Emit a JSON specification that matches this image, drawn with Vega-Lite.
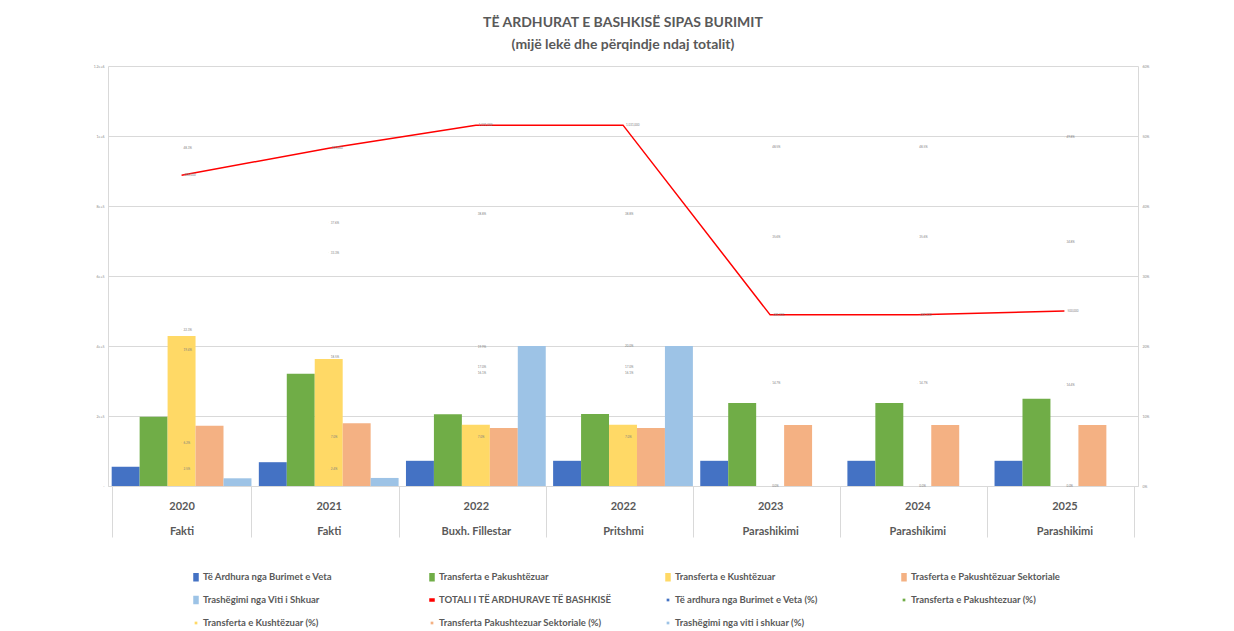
{
  "$schema": "https://vega.github.io/schema/vega-lite/v6.json",
  "width": 1030,
  "height": 420,
  "autosize": {"type": "none"},
  "padding": {"left": 108, "top": 66, "right": 96, "bottom": 145},
  "background": "white",
  "config": {
    "view": {"stroke": null},
    "font": "Lato",
    "legend": {
      "title": null,
      "orient": "none",
      "legendX": 82,
      "legendY": 505,
      "direction": "horizontal",
      "columns": 4,
      "gridAlign": "all",
      "columnPadding": 50,
      "rowPadding": 9,
      "labelFont": "Lato",
      "labelFontSize": 9.5,
      "labelFontWeight": "bold",
      "labelColor": "#595959",
      "labelLimit": 400,
      "labelOffset": 1,
      "symbolSize": 100
    }
  },
  "title": {
    "text": "TË ARDHURAT E BASHKISË SIPAS BURIMIT",
    "subtitle": "(mijë lekë dhe përqindje ndaj totalit)",
    "anchor": "middle",
    "font": "Lato",
    "fontSize": 14,
    "fontWeight": "bold",
    "color": "#595959",
    "subtitleFont": "Lato",
    "subtitleFontSize": 14,
    "subtitleFontWeight": "bold",
    "subtitleColor": "#595959",
    "subtitlePadding": 8,
    "offset": 12
  },
  "datasets": {
    "bars": [
      {"cat": "2020|Fakti", "series": "Të Ardhura nga Burimet e Veta", "value": 55000},
      {"cat": "2020|Fakti", "series": "Transferta e Pakushtëzuar", "value": 198000},
      {"cat": "2020|Fakti", "series": "Transferta e Kushtëzuar", "value": 428600},
      {"cat": "2020|Fakti", "series": "Trasferta e Pakushtëzuar Sektoriale", "value": 172000},
      {"cat": "2020|Fakti", "series": "Trashëgimi nga Viti i Shkuar", "value": 22000},
      {"cat": "2021|Fakti", "series": "Të Ardhura nga Burimet e Veta", "value": 68000},
      {"cat": "2021|Fakti", "series": "Transferta e Pakushtëzuar", "value": 321000},
      {"cat": "2021|Fakti", "series": "Transferta e Kushtëzuar", "value": 363000},
      {"cat": "2021|Fakti", "series": "Trasferta e Pakushtëzuar Sektoriale", "value": 179000},
      {"cat": "2021|Fakti", "series": "Trashëgimi nga Viti i Shkuar", "value": 23000},
      {"cat": "2022|Buxh. Fillestar", "series": "Të Ardhura nga Burimet e Veta", "value": 72000},
      {"cat": "2022|Buxh. Fillestar", "series": "Transferta e Pakushtëzuar", "value": 205000},
      {"cat": "2022|Buxh. Fillestar", "series": "Transferta e Kushtëzuar", "value": 175000},
      {"cat": "2022|Buxh. Fillestar", "series": "Trasferta e Pakushtëzuar Sektoriale", "value": 166000},
      {"cat": "2022|Buxh. Fillestar", "series": "Trashëgimi nga Viti i Shkuar", "value": 400000},
      {"cat": "2022|Pritshmi", "series": "Të Ardhura nga Burimet e Veta", "value": 72000},
      {"cat": "2022|Pritshmi", "series": "Transferta e Pakushtëzuar", "value": 206000},
      {"cat": "2022|Pritshmi", "series": "Transferta e Kushtëzuar", "value": 175000},
      {"cat": "2022|Pritshmi", "series": "Trasferta e Pakushtëzuar Sektoriale", "value": 166000},
      {"cat": "2022|Pritshmi", "series": "Trashëgimi nga Viti i Shkuar", "value": 400000},
      {"cat": "2023|Parashikimi", "series": "Të Ardhura nga Burimet e Veta", "value": 72000},
      {"cat": "2023|Parashikimi", "series": "Transferta e Pakushtëzuar", "value": 237000},
      {"cat": "2023|Parashikimi", "series": "Transferta e Kushtëzuar", "value": 0},
      {"cat": "2023|Parashikimi", "series": "Trasferta e Pakushtëzuar Sektoriale", "value": 174000},
      {"cat": "2024|Parashikimi", "series": "Të Ardhura nga Burimet e Veta", "value": 72000},
      {"cat": "2024|Parashikimi", "series": "Transferta e Pakushtëzuar", "value": 237000},
      {"cat": "2024|Parashikimi", "series": "Transferta e Kushtëzuar", "value": 0},
      {"cat": "2024|Parashikimi", "series": "Trasferta e Pakushtëzuar Sektoriale", "value": 174000},
      {"cat": "2025|Parashikimi", "series": "Të Ardhura nga Burimet e Veta", "value": 72000},
      {"cat": "2025|Parashikimi", "series": "Transferta e Pakushtëzuar", "value": 249000},
      {"cat": "2025|Parashikimi", "series": "Transferta e Kushtëzuar", "value": 0},
      {"cat": "2025|Parashikimi", "series": "Trasferta e Pakushtëzuar Sektoriale", "value": 174000}
    ],
    "total": [
      {"cat": "2020|Fakti", "series": "TOTALI I TË ARDHURAVE TË BASHKISË", "value": 888000},
      {"cat": "2021|Fakti", "series": "TOTALI I TË ARDHURAVE TË BASHKISË", "value": 965000},
      {"cat": "2022|Buxh. Fillestar", "series": "TOTALI I TË ARDHURAVE TË BASHKISË", "value": 1031000},
      {"cat": "2022|Pritshmi", "series": "TOTALI I TË ARDHURAVE TË BASHKISË", "value": 1031000},
      {"cat": "2023|Parashikimi", "series": "TOTALI I TË ARDHURAVE TË BASHKISË", "value": 489000},
      {"cat": "2024|Parashikimi", "series": "TOTALI I TË ARDHURAVE TË BASHKISË", "value": 489000},
      {"cat": "2025|Parashikimi", "series": "TOTALI I TË ARDHURAVE TË BASHKISË", "value": 500000}
    ],
    "pct": [
      {"cat": "2020|Fakti", "series": "Të ardhura nga Burimet e Veta (%)", "pct": 0.062},
      {"cat": "2020|Fakti", "series": "Transferta e Pakushtezuar (%)", "pct": 0.223},
      {"cat": "2020|Fakti", "series": "Transferta e Kushtëzuar (%)", "pct": 0.483},
      {"cat": "2020|Fakti", "series": "Transferta Pakushtezuar Sektoriale (%)", "pct": 0.194},
      {"cat": "2020|Fakti", "series": "Trashëgimi nga viti i shkuar (%)", "pct": 0.025},
      {"cat": "2021|Fakti", "series": "Të ardhura nga Burimet e Veta (%)", "pct": 0.070},
      {"cat": "2021|Fakti", "series": "Transferta e Pakushtezuar (%)", "pct": 0.333},
      {"cat": "2021|Fakti", "series": "Transferta e Kushtëzuar (%)", "pct": 0.376},
      {"cat": "2021|Fakti", "series": "Transferta Pakushtezuar Sektoriale (%)", "pct": 0.185},
      {"cat": "2021|Fakti", "series": "Trashëgimi nga viti i shkuar (%)", "pct": 0.024},
      {"cat": "2022|Buxh. Fillestar", "series": "Të ardhura nga Burimet e Veta (%)", "pct": 0.070},
      {"cat": "2022|Buxh. Fillestar", "series": "Transferta e Pakushtezuar (%)", "pct": 0.199},
      {"cat": "2022|Buxh. Fillestar", "series": "Transferta e Kushtëzuar (%)", "pct": 0.170},
      {"cat": "2022|Buxh. Fillestar", "series": "Transferta Pakushtezuar Sektoriale (%)", "pct": 0.161},
      {"cat": "2022|Buxh. Fillestar", "series": "Trashëgimi nga viti i shkuar (%)", "pct": 0.388},
      {"cat": "2022|Pritshmi", "series": "Të ardhura nga Burimet e Veta (%)", "pct": 0.070},
      {"cat": "2022|Pritshmi", "series": "Transferta e Pakushtezuar (%)", "pct": 0.200},
      {"cat": "2022|Pritshmi", "series": "Transferta e Kushtëzuar (%)", "pct": 0.170},
      {"cat": "2022|Pritshmi", "series": "Transferta Pakushtezuar Sektoriale (%)", "pct": 0.161},
      {"cat": "2022|Pritshmi", "series": "Trashëgimi nga viti i shkuar (%)", "pct": 0.388},
      {"cat": "2023|Parashikimi", "series": "Të ardhura nga Burimet e Veta (%)", "pct": 0.147},
      {"cat": "2023|Parashikimi", "series": "Transferta e Pakushtezuar (%)", "pct": 0.485},
      {"cat": "2023|Parashikimi", "series": "Transferta e Kushtëzuar (%)", "pct": 0.0},
      {"cat": "2023|Parashikimi", "series": "Transferta Pakushtezuar Sektoriale (%)", "pct": 0.356},
      {"cat": "2024|Parashikimi", "series": "Të ardhura nga Burimet e Veta (%)", "pct": 0.147},
      {"cat": "2024|Parashikimi", "series": "Transferta e Pakushtezuar (%)", "pct": 0.485},
      {"cat": "2024|Parashikimi", "series": "Transferta e Kushtëzuar (%)", "pct": 0.0},
      {"cat": "2024|Parashikimi", "series": "Transferta Pakushtezuar Sektoriale (%)", "pct": 0.356},
      {"cat": "2025|Parashikimi", "series": "Të ardhura nga Burimet e Veta (%)", "pct": 0.144},
      {"cat": "2025|Parashikimi", "series": "Transferta e Pakushtezuar (%)", "pct": 0.498},
      {"cat": "2025|Parashikimi", "series": "Transferta e Kushtëzuar (%)", "pct": 0.0},
      {"cat": "2025|Parashikimi", "series": "Transferta Pakushtezuar Sektoriale (%)", "pct": 0.348}
    ]
  },
  "layer": [
    {
      "layer": [
        {
          "data": {"name": "bars"},
          "mark": {"type": "bar"},
          "encoding": {
            "x": {
              "field": "cat", "type": "nominal",
              "sort": ["2020|Fakti", "2021|Fakti", "2022|Buxh. Fillestar", "2022|Pritshmi", "2023|Parashikimi", "2024|Parashikimi", "2025|Parashikimi"],
              "scale": {"paddingInner": 0.05, "paddingOuter": 0.025},
              "axis": {
                "title": null,
                "labelExpr": "isValid(datum.value) ? split(datum.value, '|') : ''",
                "labelAngle": 0,
                "labelFont": "Lato",
                "labelFontSize": 11,
                "labelFontWeight": "bold",
                "labelColor": "#595959",
                "labelPadding": -37,
                "labelLineHeight": 25,
                "labelOverlap": false,
                "labelBound": false,
                "tickBand": "extent",
                "tickSize": 51,
                "tickColor": "#d9d9d9",
                "domainColor": "#d9d9d9",
                "grid": false
              }
            },
            "xOffset": {
              "field": "series", "type": "nominal",
              "scale": {"domain": ["Të Ardhura nga Burimet e Veta", "Transferta e Pakushtëzuar", "Transferta e Kushtëzuar", "Trasferta e Pakushtëzuar Sektoriale", "Trashëgimi nga Viti i Shkuar"], "paddingInner": 0, "paddingOuter": 0}
            },
            "y": {
              "field": "value", "type": "quantitative",
              "scale": {"domain": [0, 1200000], "nice": false},
              "axis": {
                "title": null,
                "values": [0, 200000, 400000, 600000, 800000, 1000000, 1200000],
                "format": ",",
                "labelExpr": "datum.value == 0 ? '-' : datum.label",
                "labelFontSize": 3.5,
                "labelColor": "#8c8c8c",
                "ticks": false,
                "labelPadding": 4,
                "domainColor": "#d9d9d9",
                "gridColor": "#d9d9d9",
                "gridWidth": 1
              }
            },
            "color": {
              "field": "series", "type": "nominal",
              "scale": {
                "domain": ["Të Ardhura nga Burimet e Veta", "Transferta e Pakushtëzuar", "Transferta e Kushtëzuar", "Trasferta e Pakushtëzuar Sektoriale", "Trashëgimi nga Viti i Shkuar", "TOTALI I TË ARDHURAVE TË BASHKISË", "Të ardhura nga Burimet e Veta (%)", "Transferta e Pakushtezuar (%)", "Transferta e Kushtëzuar (%)", "Transferta Pakushtezuar Sektoriale (%)", "Trashëgimi nga viti i shkuar (%)"],
                "range": ["#4472C4", "#70AD47", "#FFD966", "#F4B183", "#9DC3E6", "#FF0000", "#4472C4", "#70AD47", "#FFD966", "#F4B183", "#9DC3E6"]
              }
            }
          }
        },
        {
          "data": {"name": "total"},
          "mark": {"type": "line", "strokeWidth": 1.5},
          "encoding": {
            "x": {"field": "cat", "type": "nominal", "sort": ["2020|Fakti", "2021|Fakti", "2022|Buxh. Fillestar", "2022|Pritshmi", "2023|Parashikimi", "2024|Parashikimi", "2025|Parashikimi"]},
            "y": {"field": "value", "type": "quantitative"},
            "color": {"field": "series", "type": "nominal"}
          }
        },
        {
          "data": {"name": "total"},
          "mark": {"type": "text", "fontSize": 3, "align": "left", "dx": 3, "color": "#7f7f7f"},
          "encoding": {
            "x": {"field": "cat", "type": "nominal", "sort": ["2020|Fakti", "2021|Fakti", "2022|Buxh. Fillestar", "2022|Pritshmi", "2023|Parashikimi", "2024|Parashikimi", "2025|Parashikimi"]},
            "y": {"field": "value", "type": "quantitative"},
            "text": {"field": "value", "type": "quantitative", "format": ","}
          }
        }
      ]
    },
    {
      "layer": [
        {
          "data": {"name": "pct"},
          "mark": {"type": "point", "filled": true, "size": 3, "opacity": 1},
          "encoding": {
            "x": {"field": "cat", "type": "nominal", "sort": ["2020|Fakti", "2021|Fakti", "2022|Buxh. Fillestar", "2022|Pritshmi", "2023|Parashikimi", "2024|Parashikimi", "2025|Parashikimi"]},
            "y": {
              "field": "pct", "type": "quantitative",
              "scale": {"domain": [0, 0.6], "nice": false},
              "axis": {
                "title": null,
                "orient": "right",
                "values": [0, 0.1, 0.2, 0.3, 0.4, 0.5, 0.6],
                "format": ".0%",
                "labelFontSize": 3.5,
                "labelColor": "#8c8c8c",
                "ticks": false,
                "grid": false,
                "labelPadding": 4,
                "domainColor": "#d9d9d9"
              }
            },
            "color": {"field": "series", "type": "nominal"},
            "shape": {
              "field": "series", "type": "nominal",
              "scale": {
                "domain": ["Të Ardhura nga Burimet e Veta", "Transferta e Pakushtëzuar", "Transferta e Kushtëzuar", "Trasferta e Pakushtëzuar Sektoriale", "Trashëgimi nga Viti i Shkuar", "TOTALI I TË ARDHURAVE TË BASHKISË", "Të ardhura nga Burimet e Veta (%)", "Transferta e Pakushtezuar (%)", "Transferta e Kushtëzuar (%)", "Transferta Pakushtezuar Sektoriale (%)", "Trashëgimi nga viti i shkuar (%)"],
                "range": [
                  "M-0.4,-0.7L0.4,-0.7L0.4,0.7L-0.4,0.7Z",
                  "M-0.4,-0.7L0.4,-0.7L0.4,0.7L-0.4,0.7Z",
                  "M-0.4,-0.7L0.4,-0.7L0.4,0.7L-0.4,0.7Z",
                  "M-0.4,-0.7L0.4,-0.7L0.4,0.7L-0.4,0.7Z",
                  "M-0.4,-0.7L0.4,-0.7L0.4,0.7L-0.4,0.7Z",
                  "M-0.4,-0.2L0.4,-0.2L0.4,0.2L-0.4,0.2Z",
                  "M-0.12,-0.12L0.12,-0.12L0.12,0.12L-0.12,0.12Z",
                  "M-0.12,-0.12L0.12,-0.12L0.12,0.12L-0.12,0.12Z",
                  "M-0.12,-0.12L0.12,-0.12L0.12,0.12L-0.12,0.12Z",
                  "M-0.12,-0.12L0.12,-0.12L0.12,0.12L-0.12,0.12Z",
                  "M-0.12,-0.12L0.12,-0.12L0.12,0.12L-0.12,0.12Z"
                ]
              }
            }
          }
        },
        {
          "data": {"name": "pct"},
          "mark": {"type": "text", "fontSize": 3, "align": "left", "dx": 2, "color": "#7f7f7f"},
          "encoding": {
            "x": {"field": "cat", "type": "nominal", "sort": ["2020|Fakti", "2021|Fakti", "2022|Buxh. Fillestar", "2022|Pritshmi", "2023|Parashikimi", "2024|Parashikimi", "2025|Parashikimi"]},
            "y": {"field": "pct", "type": "quantitative"},
            "text": {"field": "pct", "type": "quantitative", "format": ".1%"}
          }
        }
      ]
    }
  ],
  "resolve": {"scale": {"y": "independent"}}
}
